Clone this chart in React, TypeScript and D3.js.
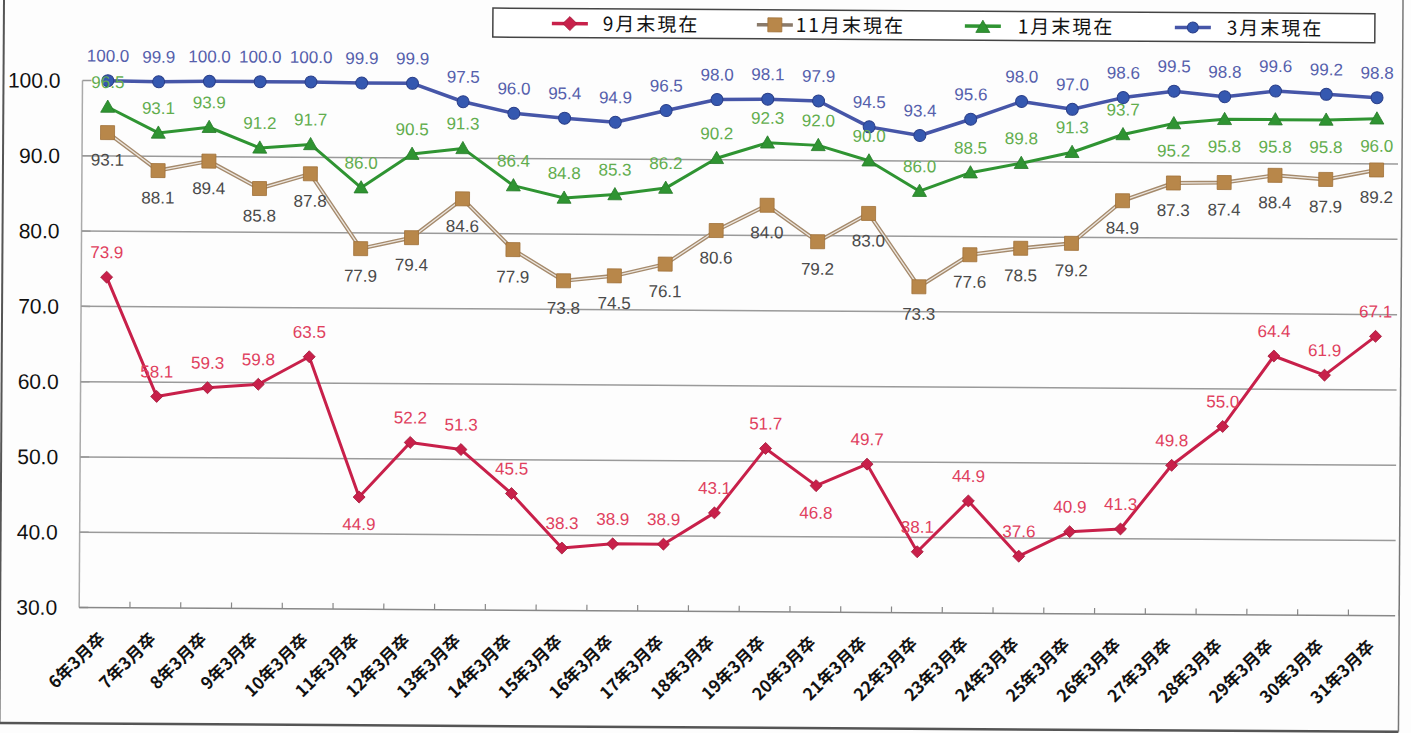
import React from "react";
import * as d3 from "d3";

const categories = [
  "6年3月卒", "7年3月卒", "8年3月卒", "9年3月卒", "10年3月卒", "11年3月卒", "12年3月卒",
  "13年3月卒", "14年3月卒", "15年3月卒", "16年3月卒", "17年3月卒", "18年3月卒", "19年3月卒",
  "20年3月卒", "21年3月卒", "22年3月卒", "23年3月卒", "24年3月卒", "25年3月卒", "26年3月卒",
  "27年3月卒", "28年3月卒", "29年3月卒", "30年3月卒", "31年3月卒",
];

const sepValues = [73.9, 58.1, 59.3, 59.8, 63.5, 44.9, 52.2, 51.3, 45.5, 38.3, 38.9, 38.9, 43.1, 51.7, 46.8, 49.7, 38.1, 44.9, 37.6, 40.9, 41.3, 49.8, 55.0, 64.4, 61.9, 67.1];
const novValues = [93.1, 88.1, 89.4, 85.8, 87.8, 77.9, 79.4, 84.6, 77.9, 73.8, 74.5, 76.1, 80.6, 84.0, 79.2, 83.0, 73.3, 77.6, 78.5, 79.2, 84.9, 87.3, 87.4, 88.4, 87.9, 89.2];
const janValues = [96.5, 93.1, 93.9, 91.2, 91.7, 86.0, 90.5, 91.3, 86.4, 84.8, 85.3, 86.2, 90.2, 92.3, 92.0, 90.0, 86.0, 88.5, 89.8, 91.3, 93.7, 95.2, 95.8, 95.8, 95.8, 96.0];
const marValues = [100.0, 99.9, 100.0, 100.0, 100.0, 99.9, 99.9, 97.5, 96.0, 95.4, 94.9, 96.5, 98.0, 98.1, 97.9, 94.5, 93.4, 95.6, 98.0, 97.0, 98.6, 99.5, 98.8, 99.6, 99.2, 98.8];

const yTicks = [30, 40, 50, 60, 70, 80, 90, 100];
const gridTicks = [40, 50, 60, 70, 80, 90];

// label placement: indexes whose labels sit below the point
const sepBelow = [5, 14];
const janBelow = [21, 22, 23, 24, 25];

const seriesNames = ["9月末現在", "11月末現在", "1月末現在", "3月末現在"];

const W = 1411;
const H = 733;
const plotLeft = 83;
const plotRight = 1403;
const plotTop = 80;
const plotBottom = 607;

const x = d3.scaleBand<string>().domain(categories).range([plotLeft, plotRight]).padding(0);
const cx = (c: string) => (x(c) as number) + x.bandwidth() / 2;
const y = d3.scaleLinear().domain([30, 100]).range([plotBottom, plotTop]);

const lineGen = (vals: number[]) =>
  d3.line<number>().x((_, i) => cx(categories[i])).y((v) => y(v))(vals) as string;

const FONT = "'Liberation Sans', Arial, 'Noto Sans CJK JP', sans-serif";
const CJK = "'Noto Sans CJK JP', 'Liberation Sans', sans-serif";

const RED = "#c8204a";
const RED_LBL = "#e0405e";
const BROWN = "#b8874a";
const GREEN = "#2f9432";
const GREEN_LBL = "#62ad4e";
const BLUE = "#4656a8";
const BLUE_PT = "#3558b0";
const BLUE_LBL = "#5560ac";

function Diamond({ px, py, s }: { px: number; py: number; s: number }) {
  return <path d={`M${px},${py - s}L${px + s},${py}L${px},${py + s}L${px - s},${py}Z`} fill={RED} stroke="#a01838" strokeWidth={0.8} />;
}
function Square({ px, py, s }: { px: number; py: number; s: number }) {
  return <rect x={px - s} y={py - s} width={2 * s} height={2 * s} fill={BROWN} stroke="#a07038" strokeWidth={0.8} />;
}
function Tri({ px, py, s }: { px: number; py: number; s: number }) {
  return <path d={`M${px},${py - s}L${px + s},${py + s * 0.75}L${px - s},${py + s * 0.75}Z`} fill={GREEN} stroke="#267a28" strokeWidth={0.8} />;
}
function Circ({ px, py, r }: { px: number; py: number; r: number }) {
  return <circle cx={px} cy={py} r={r} fill={BLUE_PT} stroke="#2a3f8a" strokeWidth={1} />;
}

function Labels({ vals, color, below }: { vals: number[]; color: string; below: (i: number) => boolean }) {
  return (
    <g fontFamily={FONT} fontSize={17} fill={color} textAnchor="middle">
      {vals.map((v, i) => (
        <text key={i} x={cx(categories[i])} y={below(i) ? y(v) + 33 : y(v) - 19}>
          {v.toFixed(1)}
        </text>
      ))}
    </g>
  );
}

export default function App() {
  const ly = 20;
  const legendItems = [
    { name: seriesNames[0], lx: 552, tx: 603, color: RED, m: (px: number) => <Diamond px={px} py={ly} s={7} /> },
    { name: seriesNames[1], lx: 757, tx: 796, color: "#8a7a6a", m: (px: number) => <Square px={px} py={ly} s={7} /> },
    { name: seriesNames[2], lx: 965, tx: 1018, color: GREEN, m: (px: number) => <Tri px={px} py={ly + 1} s={7} /> },
    { name: seriesNames[3], lx: 1175, tx: 1227, color: BLUE, m: (px: number) => <Circ px={px} py={ly} r={5.5} /> },
  ];
  return (
    <div style={{ position: "fixed", left: 0, top: 0, width: W, height: H, background: "#fff" }}>
      <svg width={W} height={H} style={{ display: "block" }}>
        <rect x={0} y={0} width={W} height={H} fill="#fdfdfd" />
        <g transform="rotate(0.36)">
          {/* outer frame */}
          <line x1={4} y1={-10} x2={4} y2={723} stroke="#555" strokeWidth={2} />
          <line x1={4} y1={723} x2={1403} y2={723} stroke="#555" strokeWidth={2.5} />
          <line x1={1403} y1={-10} x2={1403} y2={723} stroke="#777" strokeWidth={1.5} />

          {/* gridlines */}
          {gridTicks.map((t) => (
            <line key={t} x1={plotLeft} x2={plotRight - 4} y1={y(t)} y2={y(t)} stroke="#9a9a9a" strokeWidth={1.5} />
          ))}
          {/* y axis */}
          <line x1={plotLeft} x2={plotLeft} y1={plotTop} y2={plotBottom} stroke="#aaa" strokeWidth={1.5} />
          {yTicks.map((t) => (
            <line key={"t" + t} x1={plotLeft} x2={plotLeft + 9} y1={y(t)} y2={y(t)} stroke="#999" strokeWidth={1.5} />
          ))}
          <g fontFamily={FONT} fontSize={21} fill="#111" textAnchor="end">
            {yTicks.map((t) => (
              <text key={"l" + t} x={61} y={y(t) + 7.5}>
                {t.toFixed(1)}
              </text>
            ))}
          </g>
          {/* x axis */}
          <line x1={plotLeft} x2={plotRight - 4} y1={plotBottom} y2={plotBottom} stroke="#888" strokeWidth={1.5} />
          {categories.map((c, i) => (
            <line key={"xt" + i} x1={(x(c) as number) + x.bandwidth()} x2={(x(c) as number) + x.bandwidth()} y1={plotBottom - 6} y2={plotBottom} stroke="#888" strokeWidth={1.2} />
          ))}
          <g fontFamily={CJK} fontSize={17} fontWeight={700} fill="#111" textAnchor="end">
            {categories.map((c, i) => (
              <text key={"xl" + i} transform={`translate(${cx(c) + 2},${plotBottom + 32}) rotate(-45)`}>
                {c}
              </text>
            ))}
          </g>

          {/* series lines */}
          <path d={lineGen(sepValues)} fill="none" stroke={RED} strokeWidth={3} strokeLinejoin="round" />
          <path d={lineGen(novValues)} fill="none" stroke="#a58a6c" strokeWidth={4} strokeLinejoin="round" />
          <path d={lineGen(novValues)} fill="none" stroke="#ece6df" strokeWidth={1.3} strokeLinejoin="round" />
          <path d={lineGen(janValues)} fill="none" stroke={GREEN} strokeWidth={3} strokeLinejoin="round" />
          <path d={lineGen(marValues)} fill="none" stroke={BLUE} strokeWidth={3.5} strokeLinejoin="round" />

          {/* markers */}
          {sepValues.map((v, i) => <Diamond key={"s" + i} px={cx(categories[i])} py={y(v)} s={6} />)}
          {novValues.map((v, i) => <Square key={"n" + i} px={cx(categories[i])} py={y(v)} s={7} />)}
          {janValues.map((v, i) => <Tri key={"j" + i} px={cx(categories[i])} py={y(v)} s={7} />)}
          {marValues.map((v, i) => <Circ key={"m" + i} px={cx(categories[i])} py={y(v)} r={6} />)}

          {/* data labels */}
          <Labels vals={sepValues} color={RED_LBL} below={(i) => sepBelow.includes(i)} />
          <Labels vals={novValues} color="#4a4a4a" below={() => true} />
          <Labels vals={janValues} color={GREEN_LBL} below={(i) => janBelow.includes(i)} />
          <Labels vals={marValues} color={BLUE_LBL} below={() => false} />

          {/* legend */}
          <rect x={493} y={5} width={882} height={29} fill="#fff" stroke="#444" strokeWidth={1.5} />
          {legendItems.map((it, i) => (
            <g key={"lg" + i}>
              <line x1={it.lx} x2={it.lx + 36} y1={ly} y2={ly} stroke={it.color} strokeWidth={3.5} />
              {it.m(it.lx + 18)}
              <text x={it.tx} y={27} fontFamily={CJK} fontSize={19} letterSpacing={2} fill="#111">
                {it.name}
              </text>
            </g>
          ))}
        </g>
      </svg>
    </div>
  );
}
